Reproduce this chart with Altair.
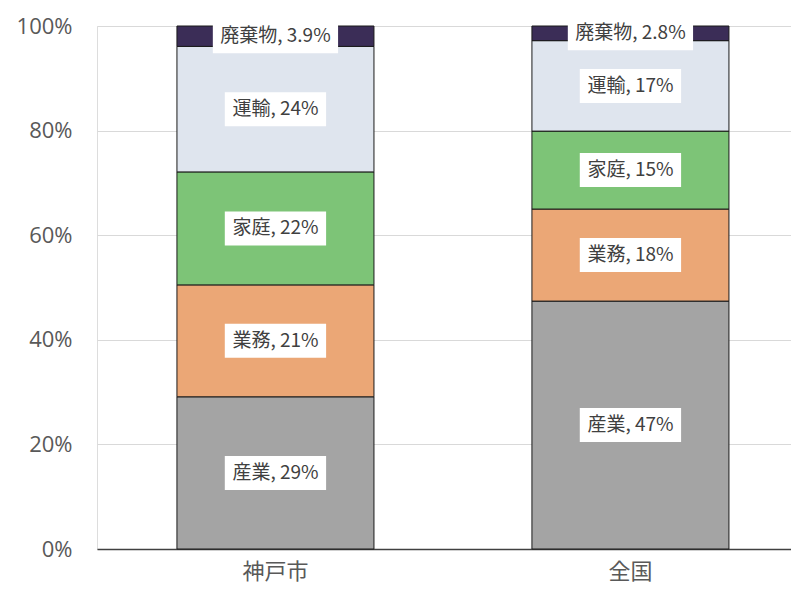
import altair as alt
import pandas as pd

regions = ["神戸市", "全国"]
sectors = ["産業", "業務", "家庭", "運輸", "廃棄物"]
kobe = [29.1, 21.4, 21.6, 24.0, 3.9]
zenkoku = [47.4, 17.6, 14.9, 17.3, 2.8]
colors = ["#a4a4a4", "#eba776", "#7dc477", "#dfe5ee", "#3b2d57"]
y_ticks = [0, 20, 40, 60, 80, 100]

FONT = "Noto Sans CJK JP"
LABEL_FS = 19


def text_width(s, fs):
    w = 0.0
    for ch in s:
        if ord(ch) > 0x2E80:
            w += fs
        elif ch.isdigit():
            w += 0.56 * fs
        elif ch == "%":
            w += 0.85 * fs
        else:
            w += 0.26 * fs
    return w


rows = []
for reg, vals in zip(regions, [kobe, zenkoku]):
    cum = 0.0
    for i, (sec, v) in enumerate(zip(sectors, vals)):
        lab = f"{sec}, {v:.1f}%" if v < 10 else f"{sec}, {round(v)}%"
        rows.append({
            "region": reg, "sector": sec, "order": i, "value": v,
            "start": cum, "end": cum + v, "mid": cum + v / 2,
            "label": lab, "boxw": text_width(lab, LABEL_FS) + 16,
        })
        cum += v
df = pd.DataFrame(rows)

x_enc = alt.X(
    "region:N", sort=regions,
    scale=alt.Scale(paddingInner=0.445, paddingOuter=0.2, align=0.563),
    axis=alt.Axis(title=None, labelAngle=0, labelFontSize=22, labelFont=FONT,
                  labelColor="#595959", ticks=False, labelPadding=12,
                  domainColor="#404040", domainWidth=1.5),
)
y_scale = alt.Scale(domain=[0, 100], nice=False)

base = alt.Chart(df)

bars = base.mark_bar(stroke="#1a1a1a", strokeWidth=1).encode(
    x=x_enc,
    y=alt.Y("start:Q", scale=y_scale,
            axis=alt.Axis(title=None, values=y_ticks, labelExpr="datum.value + '%'",
                          labelFontSize=22, labelFont="Open Sans", labelColor="#595959",
                          domain=False, ticks=False, labelPadding=25,
                          gridColor="#d9d9d9", gridWidth=1)),
    y2="end:Q",
    color=alt.Color("sector:N", scale=alt.Scale(domain=sectors, range=colors), legend=None),
)

boxes = base.mark_bar(color="white", yOffset=17, y2Offset=-17).encode(
    x=alt.X("region:N", sort=regions),
    y=alt.Y("mid:Q", scale=y_scale),
    y2="mid:Q",
    size=alt.Size("boxw:Q", scale=None),
)

texts = base.mark_text(font=FONT, fontSize=LABEL_FS, color="#404040").encode(
    x=alt.X("region:N", sort=regions),
    y=alt.Y("mid:Q", scale=y_scale),
    text="label:N",
)

chart = alt.layer(bars, boxes, texts).properties(
    width=694, height=523,
    autosize=alt.AutoSizeParams(type="none"),
    padding={"left": 89, "top": 18, "right": 0, "bottom": 40},
).configure_view(stroke=None).configure(background="white")

chart.save("out.html", embed_options={"renderer": "svg", "actions": False})
